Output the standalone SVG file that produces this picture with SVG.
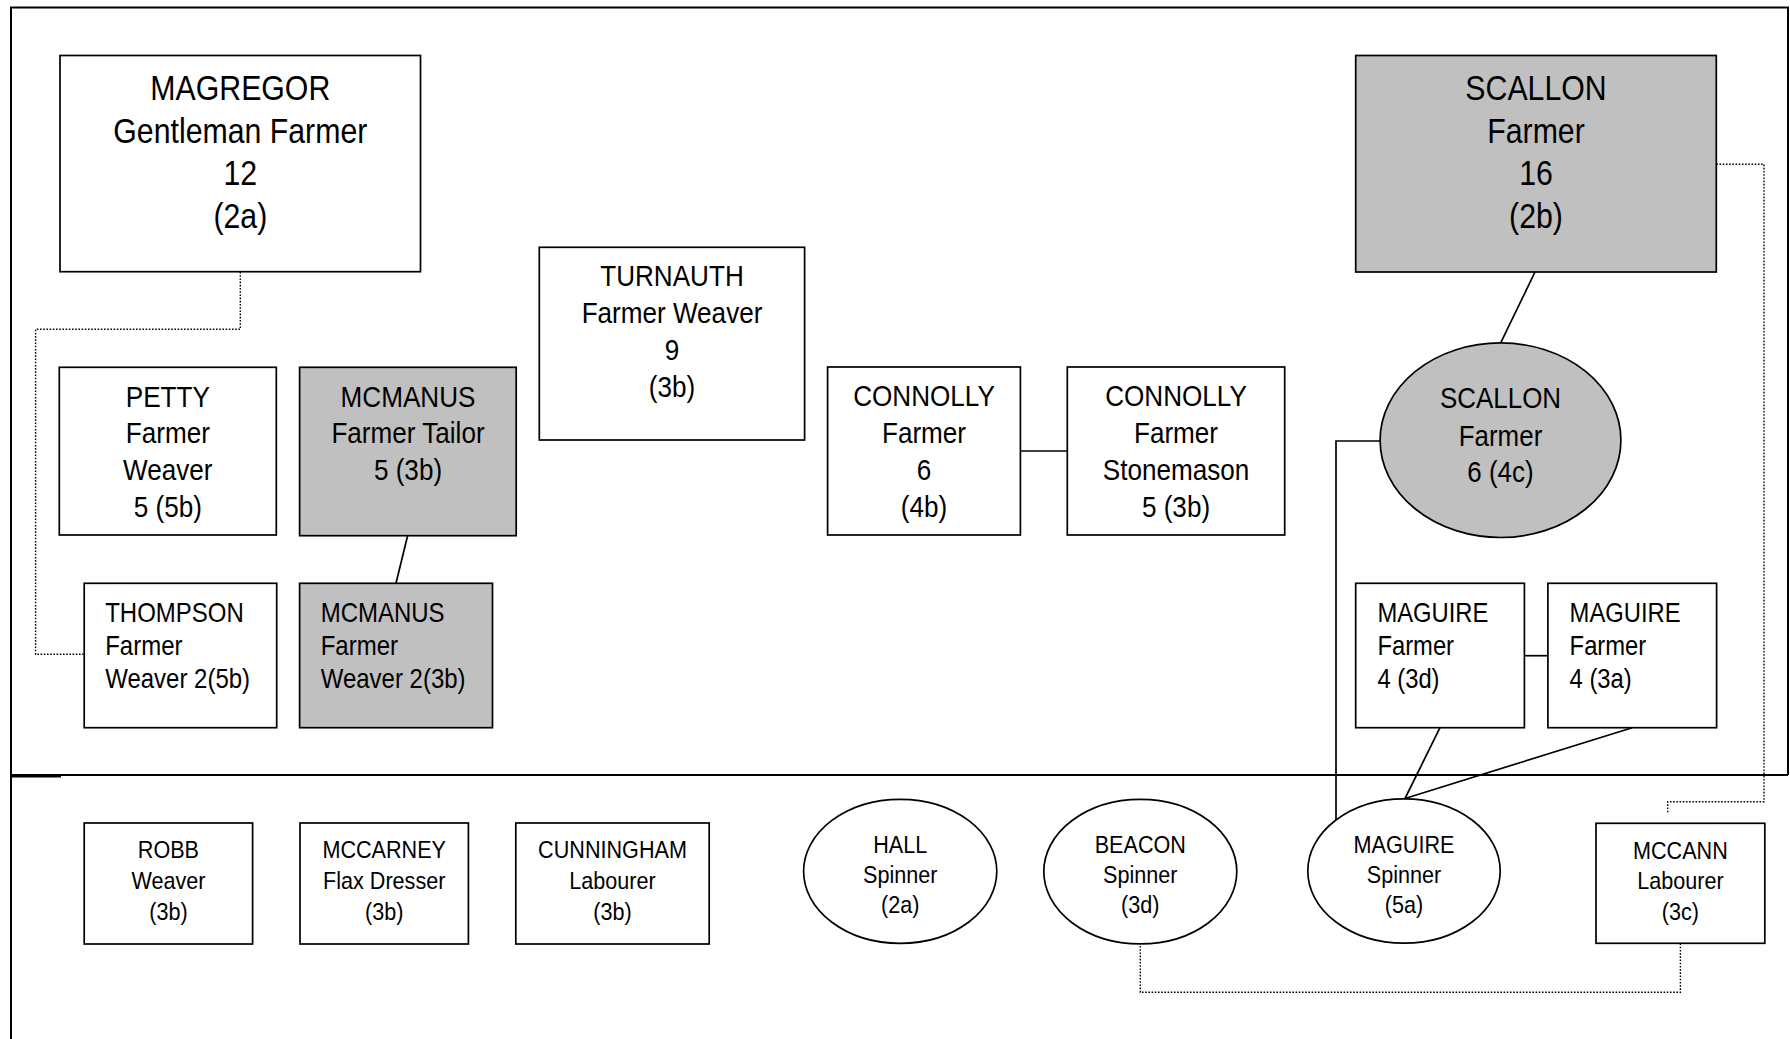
<svg xmlns="http://www.w3.org/2000/svg" width="1790" height="1039" viewBox="0 0 1790 1039">
<style>
.frame{fill:none;stroke:#000;stroke-width:2}
.box{fill:#fff;stroke:#000;stroke-width:1.7}
.gray{fill:#c0c0c0}
.t{font-family:"Liberation Sans",Arial,sans-serif;fill:#000}
.c{text-anchor:middle}
.big{font-size:35px}
.med{font-size:30px}
.m28{font-size:28px}
.sm{font-size:24px}
.solid{fill:none;stroke:#000;stroke-width:1.7}
.dot{fill:none;stroke:#000;stroke-width:1.4;stroke-dasharray:1.6 1.6}
</style>
<rect width="1790" height="1039" fill="#fff"/>
<g id="frame">
<path class="frame" d="M11,1039 V7.5 H1788 V775"/>
<line class="frame" x1="11" y1="775" x2="1788" y2="775"/>
<line x1="11" y1="776.5" x2="61" y2="776.5" stroke="#000" stroke-width="2"/>
</g>
<g id="connectors">
<path class="dot" d="M240.3,272 V329.3 H35.6 V654.3 H84.2"/>
<path class="dot" d="M1716.3,164.3 H1764 V801.7 H1667.7 V813"/>
<path class="dot" d="M1140.3,946 V992.3 H1680.4 V943.3"/>
<line class="solid" x1="407.6" y1="535.7" x2="396" y2="583.3"/>
<line class="solid" x1="1020.4" y1="451" x2="1067.3" y2="451"/>
<line class="solid" x1="1535" y1="272" x2="1500.7" y2="342.9"/>
<path class="solid" d="M1380.2,441 H1336 V820"/>
<line class="solid" x1="1524.4" y1="655.7" x2="1547.9" y2="655.7"/>
<line class="solid" x1="1440" y1="727.7" x2="1405" y2="798.5"/>
<line class="solid" x1="1632.2" y1="727.7" x2="1405" y2="798.5"/>
</g>
<g id="magregor">
<rect class="box" x="60" y="55.5" width="360.5" height="216.2"/>
<g transform="translate(240.3,0) scale(0.865,1)"><text class="t c big"><tspan x="0" y="100">MAGREGOR</tspan><tspan x="0" y="142.7">Gentleman Farmer</tspan><tspan x="0" y="185.3">12</tspan><tspan x="0" y="228">(2a)</tspan></text></g>
</g>
<g id="scallon-box">
<rect class="box gray" x="1355.7" y="55.5" width="360.6" height="216.5"/>
<g transform="translate(1536,0) scale(0.865,1)"><text class="t c big"><tspan x="0" y="100">SCALLON</tspan><tspan x="0" y="142.7">Farmer</tspan><tspan x="0" y="185.3">16</tspan><tspan x="0" y="228">(2b)</tspan></text></g>
</g>
<g id="turnauth">
<rect class="box" x="539.3" y="247.3" width="265.3" height="192.7"/>
<g transform="translate(672,0) scale(0.87,1)"><text class="t c med"><tspan x="0" y="286">TURNAUTH</tspan><tspan x="0" y="323.3">Farmer Weaver</tspan><tspan x="0" y="360">9</tspan><tspan x="0" y="396.7">(3b)</tspan></text></g>
</g>
<g id="petty">
<rect class="box" x="59.3" y="367.3" width="217" height="167.7"/>
<g transform="translate(167.8,0) scale(0.87,1)"><text class="t c med"><tspan x="0" y="406.7">PETTY</tspan><tspan x="0" y="443.3">Farmer</tspan><tspan x="0" y="480">Weaver</tspan><tspan x="0" y="516.7">5 (5b)</tspan></text></g>
</g>
<g id="mcmanus1">
<rect class="box gray" x="299.6" y="367.3" width="216.6" height="168.4"/>
<g transform="translate(408,0) scale(0.87,1)"><text class="t c med"><tspan x="0" y="406.7">MCMANUS</tspan><tspan x="0" y="443.3">Farmer Tailor</tspan><tspan x="0" y="480">5 (3b)</tspan></text></g>
</g>
<g id="connolly1">
<rect class="box" x="827.6" y="367" width="192.8" height="168"/>
<g transform="translate(924,0) scale(0.87,1)"><text class="t c med"><tspan x="0" y="406">CONNOLLY</tspan><tspan x="0" y="443">Farmer</tspan><tspan x="0" y="480">6</tspan><tspan x="0" y="516.7">(4b)</tspan></text></g>
</g>
<g id="connolly2">
<rect class="box" x="1067.3" y="367" width="217.4" height="168"/>
<g transform="translate(1176,0) scale(0.87,1)"><text class="t c med"><tspan x="0" y="406">CONNOLLY</tspan><tspan x="0" y="443">Farmer</tspan><tspan x="0" y="480">Stonemason</tspan><tspan x="0" y="516.7">5 (3b)</tspan></text></g>
</g>
<g id="scallon-ellipse">
<ellipse class="box gray" cx="1500.5" cy="440.2" rx="120.4" ry="97.3"/>
<g transform="translate(1500.5,0) scale(0.865,1)"><text class="t c med"><tspan x="0" y="408.5">SCALLON</tspan><tspan x="0" y="446">Farmer</tspan><tspan x="0" y="482.5">6 (4c)</tspan></text></g>
</g>
<g id="thompson">
<rect class="box" x="84.2" y="583.3" width="192.5" height="144.4"/>
<g transform="translate(105.2,0) scale(0.857,1)"><text class="t m28"><tspan x="0" y="621.7">THOMPSON</tspan><tspan x="0" y="655">Farmer</tspan><tspan x="0" y="688.3">Weaver 2(5b)</tspan></text></g>
</g>
<g id="mcmanus2">
<rect class="box gray" x="299.6" y="583.3" width="192.9" height="144.4"/>
<g transform="translate(320.7,0) scale(0.857,1)"><text class="t m28"><tspan x="0" y="621.7">MCMANUS</tspan><tspan x="0" y="655">Farmer</tspan><tspan x="0" y="688.3">Weaver 2(3b)</tspan></text></g>
</g>
<g id="maguire1">
<rect class="box" x="1355.7" y="583.3" width="168.7" height="144.4"/>
<g transform="translate(1377.4,0) scale(0.85,1)"><text class="t m28"><tspan x="0" y="621.7">MAGUIRE</tspan><tspan x="0" y="655">Farmer</tspan><tspan x="0" y="688.3">4 (3d)</tspan></text></g>
</g>
<g id="maguire2">
<rect class="box" x="1547.9" y="583.3" width="168.7" height="144.4"/>
<g transform="translate(1569.6,0) scale(0.85,1)"><text class="t m28"><tspan x="0" y="621.7">MAGUIRE</tspan><tspan x="0" y="655">Farmer</tspan><tspan x="0" y="688.3">4 (3a)</tspan></text></g>
</g>
<g id="robb">
<rect class="box" x="84.2" y="823" width="168.4" height="121"/>
<g transform="translate(168.4,0) scale(0.9,1)"><text class="t c sm"><tspan x="0" y="858.3">ROBB</tspan><tspan x="0" y="889.3">Weaver</tspan><tspan x="0" y="920">(3b)</tspan></text></g>
</g>
<g id="mccarney">
<rect class="box" x="300" y="823" width="168.4" height="121"/>
<g transform="translate(384.2,0) scale(0.9,1)"><text class="t c sm"><tspan x="0" y="858.3">MCCARNEY</tspan><tspan x="0" y="889.3">Flax Dresser</tspan><tspan x="0" y="920">(3b)</tspan></text></g>
</g>
<g id="cunningham">
<rect class="box" x="515.8" y="823" width="193.4" height="121"/>
<g transform="translate(612.5,0) scale(0.9,1)"><text class="t c sm"><tspan x="0" y="858.3">CUNNINGHAM</tspan><tspan x="0" y="889.3">Labourer</tspan><tspan x="0" y="920">(3b)</tspan></text></g>
</g>
<g id="hall">
<ellipse class="box" cx="900.2" cy="871.3" rx="96.6" ry="72"/>
<g transform="translate(900.2,0) scale(0.9,1)"><text class="t c sm"><tspan x="0" y="852.7">HALL</tspan><tspan x="0" y="882.7">Spinner</tspan><tspan x="0" y="913.3">(2a)</tspan></text></g>
</g>
<g id="beacon">
<ellipse class="box" cx="1140.3" cy="871.6" rx="96.5" ry="72.3"/>
<g transform="translate(1140.3,0) scale(0.9,1)"><text class="t c sm"><tspan x="0" y="852.7">BEACON</tspan><tspan x="0" y="882.7">Spinner</tspan><tspan x="0" y="913.3">(3d)</tspan></text></g>
</g>
<g id="maguire-spinner">
<ellipse class="box" cx="1404" cy="871" rx="96.2" ry="72.2"/>
<g transform="translate(1404,0) scale(0.9,1)"><text class="t c sm"><tspan x="0" y="852.7">MAGUIRE</tspan><tspan x="0" y="882.7">Spinner</tspan><tspan x="0" y="913.3">(5a)</tspan></text></g>
</g>
<g id="mccann">
<rect class="box" x="1596" y="823.3" width="168.8" height="120"/>
<g transform="translate(1680.4,0) scale(0.9,1)"><text class="t c sm"><tspan x="0" y="859">MCCANN</tspan><tspan x="0" y="889.3">Labourer</tspan><tspan x="0" y="920">(3c)</tspan></text></g>
</g>
</svg>
